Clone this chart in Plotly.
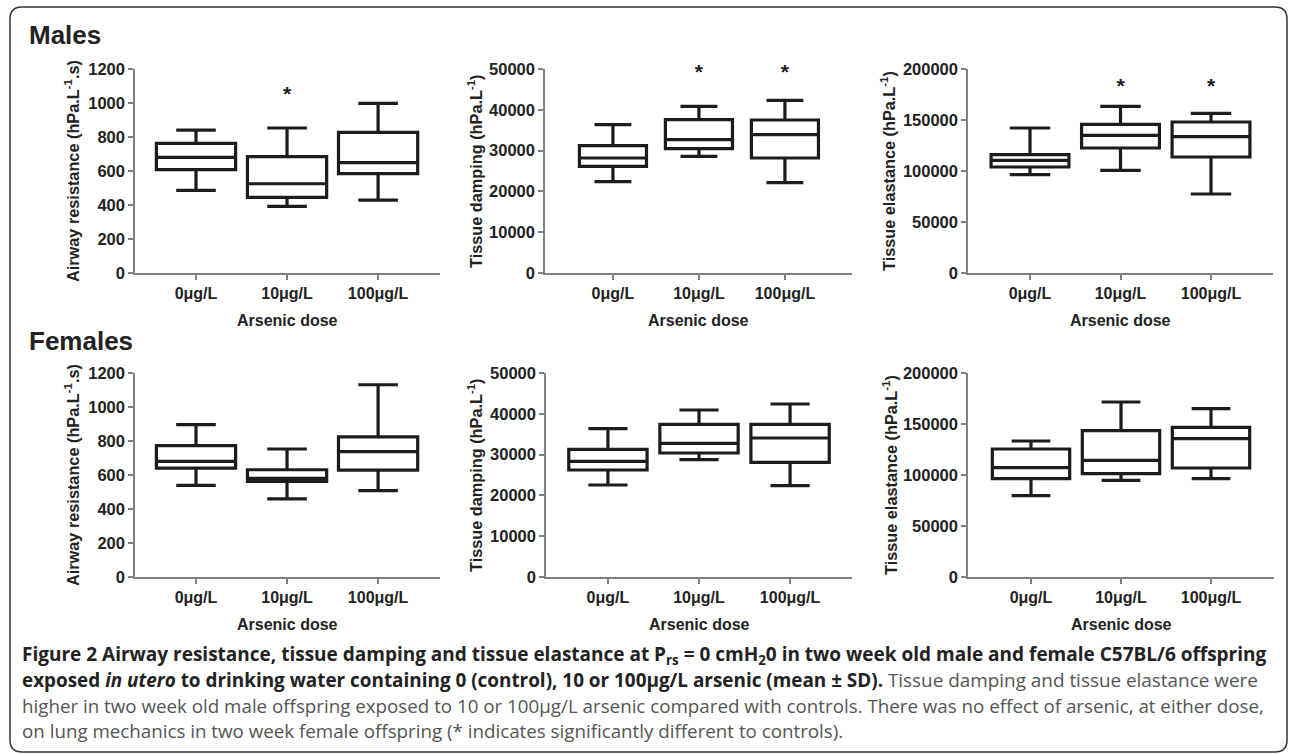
import plotly.graph_objects as go

W, H = 1290, 754

categories = ["0μg/L", "10μg/L", "100μg/L"]

# Males
m_raw_q1 = [608, 445, 584]
m_raw_med = [680, 525, 649]
m_raw_q3 = [763, 684, 827]
m_raw_lo = [486, 392, 429]
m_raw_hi = [841, 853, 998]

m_gt_q1 = [26144, 30474, 28186]
m_gt_med = [28186, 32680, 33905]
m_gt_q3 = [31209, 37582, 37500]
m_gt_lo = [22386, 28595, 22141]
m_gt_hi = [36356, 40850, 42320]

m_ht_q1 = [103922, 122549, 113725]
m_ht_med = [110458, 134967, 133660]
m_ht_q3 = [116013, 145752, 148039]
m_ht_lo = [96405, 100654, 77451]
m_ht_hi = [142157, 163399, 156536]

# Females
f_raw_q1 = [641, 563, 629]
f_raw_med = [680, 580, 737]
f_raw_q3 = [773, 631, 824]
f_raw_lo = [539, 459, 508]
f_raw_hi = [896, 753, 1131]

f_gt_q1 = [26225, 30392, 28105]
f_gt_med = [28350, 32761, 34069]
f_gt_q3 = [31291, 37418, 37418]
f_gt_lo = [22549, 28758, 22386]
f_gt_hi = [36356, 40931, 42402]

f_ht_q1 = [96405, 101307, 106863]
f_ht_med = [107190, 114379, 135621]
f_ht_q3 = [125490, 143464, 146732]
f_ht_lo = [79739, 94771, 96405]
f_ht_hi = [133333, 171569, 165033]

# significance markers (position of "*")
m_raw_sig_x = [1]
m_raw_sig_y = [1045]
m_gt_sig_x = [1, 2]
m_gt_sig_y = [48800, 48800]
m_ht_sig_x = [1, 2]
m_ht_sig_y = [182000, 182000]

y_titles = ["Airway resistance (hPa.L<sup>-1</sup>.s)",
            "Tissue damping (hPa.L<sup>-1</sup>)",
            "Tissue elastance (hPa.L<sup>-1</sup>)"]
y_max = [1200, 50000, 200000]
y_dtick = [200, 10000, 50000]
x_title = "Arsenic dose"
row_titles = ["Males", "Females"]

def px(x):
    return x / W

def py(y):
    return 1 - y / H

panels = [
    dict(q1=m_raw_q1, med=m_raw_med, q3=m_raw_q3, lo=m_raw_lo, hi=m_raw_hi,
         sx=m_raw_sig_x, sy=m_raw_sig_y, dom=(135, 440), rng=(-0.67, 2.68), bw=0.87, ww=0.5,
         ydom=(69, 273), k=0, ytx=72),
    dict(q1=m_gt_q1, med=m_gt_med, q3=m_gt_q3, lo=m_gt_lo, hi=m_gt_hi,
         sx=m_gt_sig_x, sy=m_gt_sig_y, dom=(545, 852), rng=(-0.79, 2.78), bw=0.78, ww=0.55,
         ydom=(69, 273), k=1, ytx=475),
    dict(q1=m_ht_q1, med=m_ht_med, q3=m_ht_q3, lo=m_ht_lo, hi=m_ht_hi,
         sx=m_ht_sig_x, sy=m_ht_sig_y, dom=(968, 1273), rng=(-0.685, 2.685), bw=0.86, ww=0.52,
         ydom=(69, 273), k=2, ytx=888),
    dict(q1=f_raw_q1, med=f_raw_med, q3=f_raw_q3, lo=f_raw_lo, hi=f_raw_hi,
         sx=[], sy=[], dom=(135, 440), rng=(-0.67, 2.68), bw=0.87, ww=0.5,
         ydom=(373, 577), k=0, ytx=72),
    dict(q1=f_gt_q1, med=f_gt_med, q3=f_gt_q3, lo=f_gt_lo, hi=f_gt_hi,
         sx=[], sy=[], dom=(546, 852), rng=(-0.68, 2.68), bw=0.86, ww=0.5,
         ydom=(373, 577), k=1, ytx=475),
    dict(q1=f_ht_q1, med=f_ht_med, q3=f_ht_q3, lo=f_ht_lo, hi=f_ht_hi,
         sx=[], sy=[], dom=(968, 1274), rng=(-0.7, 2.7), bw=0.86, ww=0.5,
         ydom=(373, 577), k=2, ytx=890),
]

fig = go.Figure()
BOX_COLOR = "#1c1c1c"
AXIS_COLOR = "#808080"
FONT = "Liberation Sans, Arial, sans-serif"
TXT = "#222222"

annotations = []
positions = list(range(len(categories)))
for i, p in enumerate(panels):
    n = i + 1
    xa = "x" if n == 1 else f"x{n}"
    ya = "y" if n == 1 else f"y{n}"
    fig.add_trace(go.Box(
        x=positions, q1=p["q1"], median=p["med"], q3=p["q3"],
        lowerfence=p["lo"], upperfence=p["hi"],
        width=p["bw"], whiskerwidth=p["ww"], boxpoints=False,
        line=dict(color=BOX_COLOR, width=3.2), fillcolor="rgba(255,255,255,0)",
        xaxis=xa, yaxis=ya, showlegend=False, hoverinfo="skip"))
    if p["sx"]:
        fig.add_trace(go.Scatter(
            x=p["sx"], y=p["sy"], mode="text", text=["*"] * len(p["sx"]),
            textfont=dict(family=FONT, size=21, color=BOX_COLOR, weight="bold"),
            cliponaxis=False,
            xaxis=xa, yaxis=ya, showlegend=False, hoverinfo="skip"))
    k = p["k"]
    axis_common = dict(showline=True, linecolor=AXIS_COLOR, linewidth=1.5,
                       ticks="outside", ticklen=5, tickcolor=AXIS_COLOR, tickwidth=1.5,
                       showgrid=False, zeroline=False, automargin=False)
    fig.update_layout(**{
        ("xaxis" if n == 1 else f"xaxis{n}"): dict(
            domain=[px(p["dom"][0]), px(p["dom"][1])], range=list(p["rng"]),
            tickvals=positions, ticktext=categories, anchor=ya,
            tickfont=dict(family=FONT, size=16, color=TXT, weight="bold"), **axis_common),
        ("yaxis" if n == 1 else f"yaxis{n}"): dict(
            domain=[py(p["ydom"][1]), py(p["ydom"][0])], range=[0, y_max[k]],
            dtick=y_dtick[k], tick0=0, anchor=xa, tickformat="d",
            tickfont=dict(family=FONT, size=16.5, color=TXT, weight="bold"), **axis_common),
    })
    annotations.append(dict(
        x=px(p["ytx"]), y=py((p["ydom"][0] + p["ydom"][1]) / 2), xref="paper", yref="paper",
        text=y_titles[k], showarrow=False, textangle=-90, xanchor="center", yanchor="middle",
        font=dict(family=FONT, size=16.3, color=TXT, weight="bold")))
    annotations.append(dict(
        x=px((p["dom"][0] + p["dom"][1]) / 2), y=py(p["ydom"][1] + 47),
        xref="paper", yref="paper",
        text=x_title, showarrow=False, xanchor="center", yanchor="middle",
        font=dict(family=FONT, size=16, color=TXT, weight="bold")))

for t, yy in zip(row_titles, [35, 341]):
    annotations.append(dict(x=px(27), y=py(yy), xref="paper", yref="paper", text=t,
                            showarrow=False, xanchor="left", yanchor="middle",
                            font=dict(family=FONT, size=26, color=TXT, weight="bold")))

CAP_FONT = "Open Sans, sans-serif"
B = '<span style="color:#222222"><b>'
E = '</b></span>'
caption_lines = [
    B + "Figure 2 Airway resistance, tissue damping and tissue elastance at P<sub>rs</sub> = 0 cmH<sub>2</sub>0 in two week old male and female C57BL/6 offspring" + E,
    B + "exposed <i>in utero</i> to drinking water containing 0 (control), 10 or 100μg/L arsenic (mean ± SD)." + E + " Tissue damping and tissue elastance were",
    "higher in two week old male offspring exposed to 10 or 100μg/L arsenic compared with controls. There was no effect of arsenic, at either dose,",
    "on lung mechanics in two week female offspring (* indicates significantly different to controls).",
]
caption_sizes = [19.0, 18.9, 18.75, 18.75]
for line, yy, fs in zip(caption_lines, [655, 680, 705, 730], caption_sizes):
    annotations.append(dict(x=px(20), y=py(yy), xref="paper", yref="paper", text=line,
                            showarrow=False, xanchor="left", yanchor="middle",
                            font=dict(family=CAP_FONT, size=fs, color="#555555")))

x0, y0, x1, y1, r = 10, 7, 1287, 752, 12
path = (f"M {px(x0)},{py(y0 + r)} L {px(x0)},{py(y1 - r)} "
        f"Q {px(x0)},{py(y1)} {px(x0 + r)},{py(y1)} L {px(x1 - r)},{py(y1)} "
        f"Q {px(x1)},{py(y1)} {px(x1)},{py(y1 - r)} L {px(x1)},{py(y0 + r)} "
        f"Q {px(x1)},{py(y0)} {px(x1 - r)},{py(y0)} L {px(x0 + r)},{py(y0)} "
        f"Q {px(x0)},{py(y0)} {px(x0)},{py(y0 + r)} Z")

fig.update_layout(
    template="none",
    width=W, height=H, margin=dict(l=0, r=0, t=0, b=0, pad=0),
    paper_bgcolor="white", plot_bgcolor="white",
    annotations=annotations,
    shapes=[dict(type="path", path=path, xref="paper", yref="paper",
                 line=dict(color="#333333", width=1.5))],
    showlegend=False,
)

fig.write_html("out.html", config={"displayModeBar": False},
               post_script="document.body.style.margin='0px';document.body.style.overflow='hidden';")
